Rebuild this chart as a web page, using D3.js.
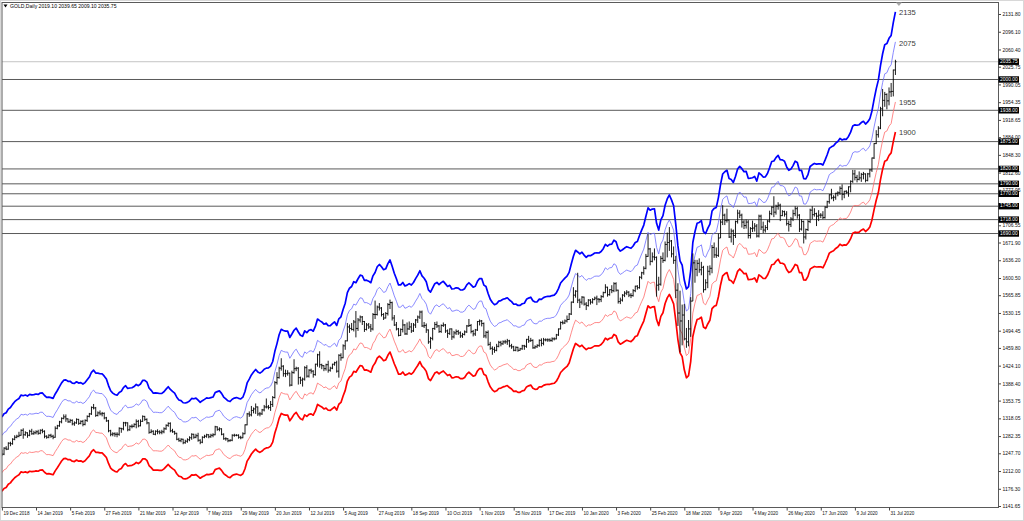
<!DOCTYPE html>
<html><head><meta charset="utf-8">
<script src="https://cdn.jsdelivr.net/npm/d3@7"></script>
<style>
html,body{margin:0;padding:0;background:#fff;}
svg{display:block;font-family:"Liberation Sans",Arial,sans-serif;}
</style></head><body>
<svg id="c" width="1024" height="521"></svg>
<script>
// ---------------- data ----------------
const symbol = "GOLD,Daily";
const firstDate = "2018-12-19";
const excludedDates = ["2018-12-25","2019-01-01","2019-04-19","2019-12-25","2020-01-01","2020-04-10"];

const opens = [
1249,1246,1258,1256,1268,1267,1276,1280,
1282,1284,1294,1285,1289,1284,1292,1287,1289,1291,1288,1294,1292,1282,1280,1284,1282,1280,1298,1303,1311,1318,
1321,1317,1311,1314,1307,1309,1316,1308,1312,1306,1314,1322,1327,1340,1339,1324,1329,1327,1328,1319,
1313,1293,1286,1287,1286,1286,1298,1297,1309,1309,1295,1302,1302,1306,1312,1303,1312,1322,1316,1309,1290,
1292,1286,1292,1291,1290,1291,1297,1304,1308,1293,1291,1288,1276,1273,1276,1269,1272,1275,1279,1286,1280,
1283,1274,1270,1280,1282,1285,1281,1284,1285,1301,1296,1297,1286,1277,1277,1273,1274,1284,1284,1284,1280,1279,1287,
1305,1327,1325,1334,1337,1341,1327,1327,1335,1341,1341,1340,1346,1360,1390,1400,1419,1423,1408,1408,
1409,1385,1410,1418,1419,1400,1395,1397,1420,1403,1415,1413,1406,1427,1446,1426,1424,1418,1426,1415,1419,1427,1430,
1413,1445,1440,1464,1474,1502,1499,1497,1512,1499,1516,1522,1513,1497,1506,1502,1498,1527,1527,1542,1540,1527,
1520,1529,1547,1551,1520,1506,1498,1485,1497,1506,1488,1498,1502,1494,1506,1516,1522,1532,1504,1505,1496,
1472,1479,1499,1507,1504,1493,1505,1506,1494,1489,1498,1482,1490,1493,1490,1484,1487,1492,1504,1505,1493,1488,1496,
1513,1514,1509,1484,1491,1467,1459,1457,1455,1463,1471,1468,1472,1472,1474,1464,1462,1455,1461,1455,1458,
1464,1463,1477,1474,1475,1460,1462,1465,1475,1469,1476,1476,1476,1475,1478,1478,1486,1498,1511,1510,1514,
1517,1528,1552,1566,1574,1556,1552,1562,1548,1545,1556,1552,1557,1560,1558,1557,1563,1571,1582,1567,1577,1575,
1589,1576,1553,1556,1566,1570,1572,1566,1565,1575,1584,1581,1602,1611,1620,1644,1659,1634,1643,1642,
1586,1588,1640,1636,1668,1672,1675,1649,1636,1576,1530,1514,1526,1478,1472,1498,1554,1631,1618,1630,1617,1622,
1577,1591,1614,1620,1662,1647,1646,1681,1713,1727,1716,1717,1683,1695,1686,1714,1731,1727,1713,1706,1713,
1686,1700,1701,1705,1685,1725,1703,1697,1702,1715,1730,1743,1733,1745,1747,1726,1734,1729,1710,1708,1719,
1730,1740,1727,1699,1714,1683,1698,1714,1737,1728,1730,1725,1727,1727,1722,1743,1754,1768,1762,1763,1771,1772,
1781,1769,1775,1773,1784,1795,1810,1803,1799,1802,1809,1810,1797,1810,1818,1842,1871,1889,1902,1941,1958,1970,1957,
1975,1976,2019.10];

const highs = [
1255,1260,1262,1270,1271,1278,1284,1285,
1291,1296,1298,1292,1290,1295,1297,1293,1294,1295,1296,1297,1294,1284,1286,1287,1285,1302,1305,1313,1320,1326,
1326,1318,1317,1316,1312,1318,1317,1314,1315,1316,1324,1329,1342,1347,1341,1332,1334,1331,1330,1321,
1315,1295,1290,1290,1290,1300,1299,1311,1311,1310,1304,1306,1308,1316,1315,1316,1324,1323,1318,1310,1296,
1294,1294,1296,1294,1295,1300,1306,1310,1310,1297,1293,1289,1279,1278,1277,1275,1278,1282,1288,1287,1287,
1289,1276,1282,1285,1287,1286,1287,1288,1303,1302,1300,1298,1288,1280,1278,1276,1286,1287,1286,1286,1283,1290,1306,
1329,1332,1343,1340,1348,1342,1331,1337,1345,1358,1345,1353,1363,1393,1411,1422,1439,1425,1416,1415,
1410,1414,1437,1422,1421,1402,1400,1423,1425,1417,1418,1415,1428,1448,1453,1428,1425,1428,1434,1422,1428,1432,1434,
1447,1449,1467,1475,1510,1507,1510,1516,1534,1520,1525,1524,1514,1510,1510,1508,1530,1555,1545,1550,1542,1530,
1532,1550,1557,1553,1526,1512,1500,1499,1517,1508,1511,1513,1510,1510,1518,1525,1535,1535,1512,1509,1497,
1482,1500,1512,1513,1506,1507,1511,1508,1497,1499,1499,1494,1497,1496,1493,1490,1495,1506,1518,1508,1496,1498,1514,
1517,1516,1511,1494,1495,1472,1463,1462,1468,1474,1474,1475,1476,1478,1476,1468,1464,1463,1462,1460,1466,
1466,1478,1484,1480,1477,1465,1467,1477,1479,1480,1479,1479,1479,1481,1481,1488,1499,1513,1515,1517,1525,
1530,1553,1582,1576,1611,1559,1564,1563,1552,1558,1558,1560,1563,1565,1560,1566,1573,1588,1583,1578,1586,1592,
1592,1577,1561,1568,1574,1576,1574,1570,1578,1585,1586,1604,1613,1624,1649,1689,1661,1652,1660,1644,
1603,1645,1652,1674,1692,1703,1677,1664,1645,1590,1575,1547,1548,1500,1516,1562,1650,1637,1637,1640,1633,1625,
1598,1625,1626,1667,1672,1662,1690,1718,1747,1730,1740,1718,1700,1698,1716,1738,1737,1730,1717,1718,1717,
1703,1716,1711,1709,1728,1728,1714,1707,1717,1736,1745,1765,1748,1753,1750,1737,1736,1735,1716,1723,1738,
1745,1744,1729,1719,1716,1700,1718,1740,1745,1741,1732,1737,1731,1735,1745,1756,1769,1780,1767,1772,1775,1785,
1789,1776,1777,1785,1797,1818,1818,1808,1815,1812,1814,1811,1812,1820,1843,1872,1898,1906,1945,1981,1975,1972,1984,
1993,2020,2039.65];

const lows = [
1242,1244,1254,1255,1262,1265,1274,1278,
1280,1283,1277,1283,1279,1282,1285,1285,1286,1285,1286,1288,1278,1277,1278,1279,1276,1279,1296,1301,1308,1316,
1311,1309,1309,1304,1303,1307,1305,1306,1302,1304,1311,1320,1325,1336,1321,1322,1324,1322,1316,1311,
1290,1282,1282,1281,1280,1283,1289,1294,1302,1292,1293,1298,1300,1298,1300,1302,1311,1313,1306,1287,1288,
1285,1284,1286,1286,1286,1288,1295,1301,1290,1289,1285,1274,1271,1270,1266,1267,1269,1272,1275,1277,1278,
1271,1266,1268,1278,1279,1278,1279,1280,1284,1293,1292,1284,1275,1273,1270,1271,1272,1281,1282,1277,1276,1278,1286,
1304,1321,1322,1328,1327,1323,1322,1325,1332,1338,1336,1333,1341,1358,1386,1398,1414,1402,1401,1404,
1382,1383,1408,1413,1386,1387,1382,1394,1400,1400,1408,1400,1404,1422,1420,1417,1413,1414,1410,1412,1417,1424,1410,
1400,1434,1439,1456,1473,1490,1495,1493,1481,1494,1511,1506,1492,1495,1498,1492,1495,1518,1525,1535,1523,1516,
1519,1525,1538,1515,1504,1495,1483,1484,1491,1486,1486,1496,1490,1492,1500,1510,1518,1502,1500,1490,1468,
1458,1475,1496,1500,1490,1490,1502,1490,1480,1486,1476,1479,1486,1486,1480,1480,1485,1490,1502,1489,1483,1484,1494,
1505,1503,1480,1479,1464,1456,1446,1450,1453,1461,1463,1466,1468,1466,1461,1458,1453,1453,1452,1454,1456,
1456,1460,1470,1472,1458,1458,1460,1462,1463,1465,1473,1472,1472,1472,1475,1477,1484,1497,1507,1508,1511,
1516,1526,1550,1561,1550,1540,1547,1545,1536,1543,1547,1549,1556,1546,1551,1552,1561,1570,1563,1565,1570,1572,
1573,1549,1548,1553,1562,1566,1562,1560,1563,1572,1577,1579,1598,1607,1618,1643,1626,1632,1636,1563,
1575,1585,1631,1634,1642,1655,1642,1629,1560,1504,1451,1465,1475,1460,1463,1482,1554,1591,1604,1611,1606,1571,
1576,1580,1606,1610,1641,1641,1643,1681,1707,1707,1712,1681,1672,1667,1681,1710,1721,1702,1699,1700,1680,
1680,1693,1694,1682,1682,1697,1691,1692,1697,1712,1727,1723,1728,1738,1715,1725,1724,1706,1694,1703,1715,
1725,1720,1693,1696,1670,1678,1695,1711,1719,1724,1705,1715,1721,1719,1720,1741,1750,1759,1755,1758,1765,1768,
1757,1761,1770,1764,1773,1792,1797,1793,1797,1794,1799,1793,1795,1803,1814,1840,1870,1883,1900,1926,1945,1940,1948,
1965,1966,2009.10];

const closes = [
1246,1258,1256,1268,1267,1276,1280,1282,
1284,1294,1285,1289,1284,1292,1287,1289,1291,1288,1294,1292,1282,1280,1284,1282,1280,1298,1303,1311,1318,1321,
1317,1311,1314,1307,1309,1316,1308,1312,1306,1314,1322,1327,1340,1339,1324,1329,1327,1328,1319,1313,
1293,1286,1287,1286,1286,1298,1297,1309,1309,1295,1302,1302,1306,1312,1303,1312,1322,1316,1309,1290,1292,
1286,1292,1291,1290,1291,1297,1304,1308,1293,1291,1288,1276,1273,1276,1269,1272,1275,1279,1286,1280,1283,
1274,1270,1280,1282,1285,1281,1284,1285,1301,1296,1297,1286,1277,1277,1273,1274,1284,1284,1284,1280,1279,1287,1305,
1327,1325,1334,1337,1341,1327,1327,1335,1341,1341,1340,1346,1360,1390,1400,1419,1423,1408,1408,1409,
1385,1410,1418,1419,1400,1395,1397,1420,1403,1415,1413,1406,1427,1446,1426,1424,1418,1426,1415,1419,1427,1430,1413,
1445,1440,1464,1474,1502,1499,1497,1512,1499,1516,1522,1513,1497,1506,1502,1498,1527,1527,1542,1540,1527,1520,
1529,1547,1551,1520,1506,1498,1485,1497,1506,1488,1498,1502,1494,1506,1516,1522,1532,1504,1505,1496,1472,
1479,1499,1507,1504,1493,1505,1506,1494,1489,1498,1482,1490,1493,1490,1484,1487,1492,1504,1505,1493,1488,1496,1513,
1514,1509,1484,1491,1467,1459,1457,1455,1463,1471,1468,1472,1472,1474,1464,1462,1455,1461,1455,1458,1464,
1463,1477,1474,1475,1460,1462,1465,1475,1469,1476,1476,1476,1475,1478,1478,1486,1498,1511,1510,1514,1517,
1528,1552,1566,1574,1556,1552,1562,1548,1545,1556,1552,1557,1560,1558,1557,1563,1571,1582,1567,1577,1575,1589,
1576,1553,1556,1566,1570,1572,1566,1565,1575,1584,1581,1602,1611,1620,1644,1659,1634,1643,1642,1586,
1588,1640,1636,1668,1672,1675,1649,1636,1576,1530,1514,1526,1478,1472,1498,1554,1631,1618,1630,1617,1622,1577,
1591,1614,1620,1662,1647,1646,1681,1713,1727,1716,1717,1683,1695,1686,1714,1731,1727,1713,1706,1713,1686,
1700,1701,1705,1685,1725,1703,1697,1702,1715,1730,1743,1733,1745,1747,1726,1734,1729,1710,1708,1719,1730,
1740,1727,1699,1714,1683,1698,1714,1737,1728,1730,1725,1727,1727,1722,1743,1754,1768,1762,1763,1771,1772,1781,
1769,1775,1773,1784,1795,1810,1803,1799,1802,1809,1810,1797,1810,1818,1842,1871,1889,1902,1941,1958,1970,1957,1975,
1976,2019,2035.75];

const dateTickLabels = ["19 Dec 2018","14 Jan 2019","5 Feb 2019","27 Feb 2019","21 Mar 2019","12 Apr 2019",
 "7 May 2019","29 May 2019","20 Jun 2019","12 Jul 2019","5 Aug 2019","27 Aug 2019","18 Sep 2019","10 Oct 2019",
 "1 Nov 2019","25 Nov 2019","17 Dec 2019","10 Jan 2020","3 Feb 2020","25 Feb 2020","18 Mar 2020","9 Apr 2020",
 "4 May 2020","26 May 2020","17 Jun 2020","9 Jul 2020","31 Jul 2020"];

// price scale labels visible on the right axis
const priceTickLabels = ["2131.80","2096.10","2060.40","2025.75","1990.05","1954.35","1918.65","1884.00",
 "1848.30","1812.60","1777.95","1706.55","1671.90","1636.20","1600.50","1565.85","1530.15","1494.45",
 "1459.80","1424.10","1388.40","1353.75","1318.05","1282.35","1247.70","1212.00","1176.30","1141.65"];

const levelLines = [2000, 1938, 1875, 1820, 1790, 1770, 1745, 1718, 1690];
const envelopeDeviations = [6, 3, -3, -6];   // percent
const bandLabels = ["2135", "2075", "1955", "1900"];
const maPeriod = 3;                          // EMA period of the envelope

// ---------------- layout ----------------
const W = 1024, H = 521;
const plot = {left: 2, right: 998.5, top: 2.5, bottom: 507.5};
const barStep = 2.1325, firstBarX = 1.9;

const svg = d3.select("#c");
const n = Math.min(opens.length, highs.length, lows.length, closes.length);

// trading-day categories
const parseISO = d3.timeParse("%Y-%m-%d"), fmtISO = d3.timeFormat("%Y-%m-%d");
const dates = [];
for (let d = parseISO(firstDate); dates.length < n; d = d3.timeDay.offset(d, 1)) {
  const wd = d.getDay();
  if (wd !== 0 && wd !== 6 && !excludedDates.includes(fmtISO(d))) dates.push(d);
}
const dateIndex = new Map(dates.map((d, i) => [fmtISO(d), i]));
const parseLabel = d3.timeParse("%d %b %Y");
const tickIdx = dateTickLabels.map(s => dateIndex.get(fmtISO(parseLabel(s))));

const priceVals = priceTickLabels.map(Number);
const x = d3.scaleLinear().domain([0, n - 1]).range([firstBarX, firstBarX + barStep * (n - 1)]);
const y = d3.scaleLinear().domain(d3.extent(priceVals)).range([506, 14]);

// clip
svg.append("defs").append("clipPath").attr("id", "clip")
  .append("rect").attr("x", plot.left).attr("y", plot.top)
  .attr("width", plot.right - plot.left).attr("height", plot.bottom - plot.top);

const gPlot = svg.append("g").attr("clip-path", "url(#clip)");

// current price line
const last = n - 1;
gPlot.append("line").attr("x1", plot.left).attr("x2", plot.right)
  .attr("y1", y(closes[last])).attr("y2", y(closes[last]))
  .attr("stroke", "#c4c4c4").attr("stroke-width", 1);

// horizontal levels
gPlot.selectAll("line.level").data(levelLines).join("line").attr("class", "level")
  .attr("x1", plot.left).attr("x2", plot.right)
  .attr("y1", d => y(d)).attr("y2", d => y(d))
  .attr("stroke", "#5a5a5a").attr("stroke-width", 1);

// envelope
const k = 2 / (maPeriod + 1);
const ema = [];
for (let i = 0; i < n; i++) ema.push(i === 0 ? closes[0] : ema[i - 1] + k * (closes[i] - ema[i - 1]));
const bands = envelopeDeviations.map(dev => ema.map(v => v * (1 + dev / 100)));
const bandStyle = [
  {c: "#0000ff", w: 1.7}, {c: "#6b6bff", w: 0.8}, {c: "#ff6b6b", w: 0.8}, {c: "#ff0000", w: 1.7}];
const line = d3.line().x((d, i) => x(i)).y(d => y(d));
gPlot.selectAll("path.band").data(bands).join("path").attr("class", "band")
  .attr("d", line).attr("fill", "none")
  .attr("stroke", (d, i) => bandStyle[i].c).attr("stroke-width", (d, i) => bandStyle[i].w)
  .attr("stroke-linejoin", "round");

// OHLC bars
gPlot.selectAll("path.bar").data(d3.range(n)).join("path").attr("class", "bar")
  .attr("d", i => {
    const cx = x(i);
    return `M${cx},${y(highs[i])}V${y(lows[i])}M${cx - 1.1},${y(opens[i])}H${cx}M${cx},${y(closes[i])}H${cx + 1.1}`;
  })
  .attr("stroke", "#000").attr("stroke-width", 0.9).attr("fill", "none");

// band end labels
svg.selectAll("text.bandlab").data(bands).join("text").attr("class", "bandlab")
  .attr("x", x(last) + 3.5).attr("y", (d, i) => y(d[last]) + 1 + (i === 1 ? 1.5 : 0))
  .attr("dominant-baseline", "middle").attr("font-size", 7.6).attr("fill", "#3a3a3a")
  .text((d, i) => bandLabels[i]);

// frame
svg.append("rect").attr("x", plot.left).attr("y", plot.top)
  .attr("width", plot.right - plot.left).attr("height", plot.bottom - plot.top)
  .attr("fill", "none").attr("stroke", "#5a5a5a").attr("stroke-width", 1);
svg.append("rect").attr("x", 0.5).attr("y", 0.5).attr("width", W - 1).attr("height", H - 1)
  .attr("fill", "none").attr("stroke", "#d8d8d8").attr("stroke-width", 1);

// chart shift marker
svg.append("path").attr("d", `M${x(last) + 0.5},2.5L${x(last) + 6.5},2.5L${x(last) + 3.5},6Z`).attr("fill", "#a8a8a8");

// y axis (right)
const yAxis = d3.axisRight(y).tickValues(priceVals).tickFormat(d3.format(".2f")).tickSize(2.5).tickPadding(1.5);
const gy = svg.append("g").attr("transform", `translate(${plot.right},0)`).call(yAxis);
gy.select(".domain").remove();
gy.selectAll(".tick line").attr("stroke", "#444");
gy.selectAll(".tick text").attr("font-size", 5).attr("fill", "#111").attr("font-family", "Liberation Sans, Arial, sans-serif");

// price tags
const tagVals = levelLines.concat([closes[last]]);
const tags = svg.append("g").selectAll("g").data(tagVals).join("g")
  .attr("transform", d => `translate(${plot.right},${y(d)})`);
tags.append("rect").attr("x", 0).attr("y", -3.2).attr("width", 20.5).attr("height", 6.4).attr("fill", "#000");
tags.append("text").attr("x", 1.5).attr("y", 0).attr("dominant-baseline", "middle")
  .attr("font-size", 4.9).attr("fill", "#fff").text(d => d3.format(".2f")(d));

// x axis
const xAxis = d3.axisBottom(x).tickValues(tickIdx).tickFormat((d, i) => dateTickLabels[i]).tickSize(3).tickPadding(0);
const gx = svg.append("g").attr("transform", `translate(0,${plot.bottom})`).call(xAxis);
gx.select(".domain").remove();
gx.selectAll(".tick line").attr("stroke", "#444");
gx.selectAll(".tick text").attr("text-anchor", "start").attr("dx", 1).attr("dy", 0)
  .attr("y", 5.8).attr("dominant-baseline", "middle")
  .attr("font-size", 4.6).attr("fill", "#111").attr("font-family", "Liberation Sans, Arial, sans-serif");

// title
svg.append("path").attr("d", "M3.5,4.5L7.5,4.5L5.5,7.5Z").attr("fill", "#000");
const f2 = d3.format(".2f");
svg.append("text").attr("x", 10).attr("y", 6.2).attr("dominant-baseline", "middle")
  .attr("font-size", 5.1).attr("fill", "#000")
  .text(`${symbol}  ${f2(opens[last])} ${f2(highs[last])} ${f2(lows[last])} ${f2(closes[last])}`);
</script>
</body></html>
